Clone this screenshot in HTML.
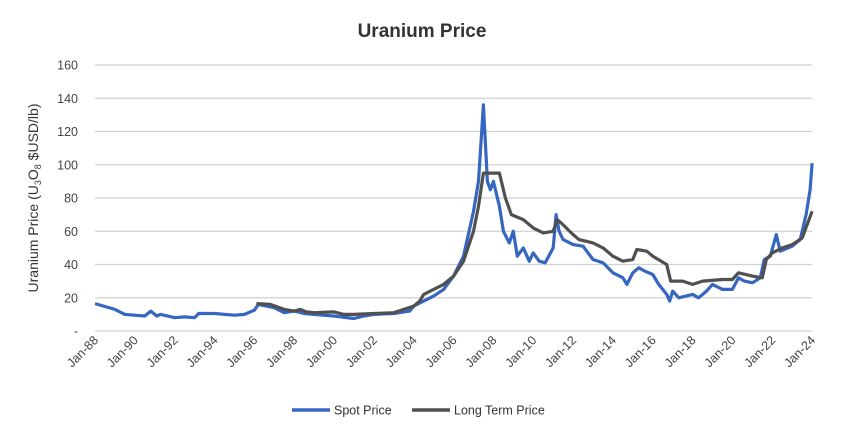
<!DOCTYPE html>
<html><head><meta charset="utf-8"><style>
body{margin:0;background:#fff;width:844px;height:436px;overflow:hidden;font-family:"Liberation Sans",sans-serif}
</style></head><body>
<svg id="s" width="844" height="436" xmlns="http://www.w3.org/2000/svg" font-family="Liberation Sans, sans-serif">
<text x="422" y="37" text-anchor="middle" font-size="19" font-weight="bold" fill="#333">Uranium Price</text>
<g id="grid" stroke="#d0d0d0" stroke-width="1.3"></g>
<g id="ylab" font-size="12.5" fill="#444" text-anchor="end"></g>
<g id="xlab" font-size="12.5" fill="#444" text-anchor="end"></g>
<text transform="translate(38,198) rotate(-90)" text-anchor="middle" font-size="14" fill="#333">Uranium Price (U<tspan font-size="9" dy="3">3</tspan><tspan dy="-3">O</tspan><tspan font-size="9" dy="3">8</tspan><tspan dy="-3"> $USD/lb)</tspan></text>
<polyline id="sp" fill="none" stroke="#3566c0" stroke-width="3.2" stroke-linejoin="round"/>
<polyline id="lt" fill="none" stroke="#505050" stroke-width="3.2" stroke-linejoin="round"/>
<line x1="292" y1="410" x2="330" y2="410" stroke="#3566c0" stroke-width="3.5"/>
<text x="334" y="414.5" font-size="12.5" fill="#333">Spot Price</text>
<line x1="412" y1="410" x2="450" y2="410" stroke="#505050" stroke-width="3.5"/>
<text x="454" y="414.5" font-size="12.5" fill="#333">Long Term Price</text>
</svg>
<script>
var X=function(y){return 95+(y-1988)*19.92},Y=function(v){return 331-v*1.6625};
var g=document.getElementById('grid'),yl=document.getElementById('ylab'),xl=document.getElementById('xlab'),h='',t='';
for(var v=0;v<=160;v+=20){h+='<line x1="95" x2="812" y1="'+Y(v)+'" y2="'+Y(v)+'"/>';t+='<text x="78" y="'+(Y(v)+4.5)+'">'+(v?v:'-')+'</text>';}
g.innerHTML=h;yl.innerHTML=t;t='';
for(var yr=1988;yr<=2024;yr+=2){var x=X(yr)+4,s=String(yr).slice(2);t+='<text transform="translate('+x+',341) rotate(-45)">Jan-'+s+'</text>';}
xl.innerHTML=t;
var sp=[1988,16.5,1989,13,1989.5,10,1990.5,9,1990.8,12,1991.1,9,1991.3,10,1992,8,1992.5,8.5,1993,8,1993.2,10.5,1994,10.5,1995,9.5,1995.5,10,1996,12.5,1996.2,16,1997,14,1997.5,11,1998,12,1998.5,10.5,1999,10,2000,9,2001,7.5,2001.5,9,2002,10,2003,10.5,2003.8,12,2004,15,2005,21,2005.5,25,2006,33,2006.5,45,2007,72,2007.25,90,2007.5,136,2007.6,113,2007.7,90,2007.85,85,2008,90,2008.3,75,2008.5,60,2008.8,53,2009,60,2009.2,45,2009.5,50,2009.8,42,2010,47,2010.3,42,2010.6,41,2011,50,2011.15,70,2011.3,60,2011.5,55,2012,52,2012.5,51,2013,43,2013.5,41,2014,35,2014.5,32,2014.7,28,2015,35,2015.3,38,2015.6,36,2016,34,2016.3,28,2016.7,22,2016.85,18,2017,24,2017.3,20,2018,22,2018.3,20,2018.7,24,2019,28,2019.5,25,2020,25,2020.3,32,2020.6,30,2021,29,2021.4,32,2021.6,43,2021.9,45,2022.2,58,2022.4,48,2022.8,50,2023,51,2023.4,55,2023.7,70,2023.9,85,2024,101];
var lt=[1996.1,16.5,1996.8,16,1997.5,13,1998,12,1998.3,13,1998.6,11.5,1999,11,2000,11.5,2000.5,10,2001,10,2002,10.5,2003,11,2004,15,2004.3,18,2004.5,22,2005,25,2005.5,28,2006,33,2006.5,42,2007,60,2007.25,75,2007.5,95,2008.3,95,2008.6,80,2008.9,70,2009.5,67,2010,62,2010.5,59,2011,60,2011.2,67,2011.4,65,2012,58,2012.3,55,2013,53,2013.5,50,2014,45,2014.5,42,2015,43,2015.2,49,2015.7,48,2016,45,2016.7,40,2016.9,30,2017.5,30,2018,28,2018.5,30,2019.5,31,2020,31,2020.3,35,2021,33,2021.5,32,2021.7,43,2022,47,2022.5,50,2023,52,2023.5,56,2024,72];
function pts(a){var r=[];for(var i=0;i<a.length;i+=2)r.push(X(a[i]).toFixed(1)+','+Y(a[i+1]).toFixed(1));return r.join(' ');}
document.getElementById('sp').setAttribute('points',pts(sp));
document.getElementById('lt').setAttribute('points',pts(lt));
</script>
</body></html>
